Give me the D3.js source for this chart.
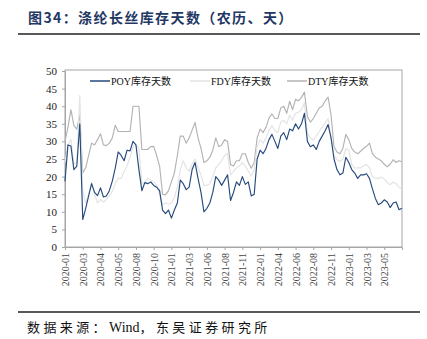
<!DOCTYPE html>
<html><head><meta charset="utf-8">
<script src="https://cdn.jsdelivr.net/npm/d3@7"></script>
<style>body{margin:0;background:#fff;} svg{display:block;}</style>
</head><body><svg id="c" width="427" height="339"></svg>
<script>
const tickLabels = ["2020-01","2020-03","2020-04","2020-05","2020-08","2020-10","2021-01","2021-03","2021-06","2021-08","2021-11","2022-01","2022-04","2022-06","2022-08","2022-11","2023-01","2023-03","2023-05"];
const labelStep = 6;
const poy = [18.7,29,28.7,22,23,35,7.8,11,14.5,18,15.5,14.6,16.8,14.2,14.5,16,18.7,22.4,27,26,24.5,27.5,27.3,30,29,22,16,18.3,18,18.5,17.5,17,16,10.5,9.5,10.5,8.2,10.5,12.5,19,18,16.3,17,22,24,19.5,15.5,10,11,12.5,15.5,20,19,17.5,19,20.5,13.2,15.5,18.5,17.5,20,17.8,18.5,14.5,15,25,27.5,26.5,28,30.5,32,30,28,31.5,32.5,30.5,33.5,33,35,33.5,35,38,30,28.5,29,27.7,30,31.5,33,34.8,31,25,22,20.5,21,25.5,24,22,21,19.5,20.5,20.5,20.8,19.5,16.5,13.8,12,12.5,13.4,12.8,11.2,12.5,12.8,10.6,11];
const fdy = [24,29,30.5,23.5,24,43,16,12.5,15,18.5,15,12.5,13.5,12.8,13.5,14.5,15.8,18,19.5,19.5,21.5,23,25.5,28.5,29,28,18,18.5,19.5,19,18.5,17.5,15,12,12.5,12.2,12.5,14,17,22,24.5,22.5,21.5,23.5,25,22.5,20.5,17.5,17.5,18,20,22.5,23.5,24.5,26,26.5,20.5,21.5,22.5,23,24,23,21.5,20.1,22,28.5,30.5,29.5,31,33,34.5,33,32.5,35.5,36,35,37.5,36,38,38.3,39,41,32.5,31,30.4,31.5,32.8,34,35.2,36.5,31,26,24.8,24.3,25,28,27.5,23.5,22.4,22.5,22.5,23,23.5,22.5,20,19.5,19.5,19.8,19.3,18.3,17.7,18.4,18,17,16.3];
const dty = [30,34,39,34.5,33.5,37.5,21,22.5,26,29.5,29,30.5,32.2,29,28.8,29.5,31,34.6,32.8,32.8,32.8,32.8,32.8,40,40,40,27.7,27.7,27.7,28.5,28.6,26,23,15,14.8,16,18.5,21,26,31.5,31.5,29.5,31,33.2,35.4,31,28,24,24.5,25.5,27.5,31,28.5,29,30.5,30,23.4,23,24.5,24.5,26.5,26.5,24,22.4,24,31,33.5,32.5,34,36.6,37.8,36.5,36.5,39.5,40,38,41.4,39,42,41.5,42.5,44,37,35.5,36.5,38,39.5,40,41.5,42.6,37.5,28.5,27,26.5,28,32,30.5,28,27,26.5,27.2,28,28.6,29.5,26.5,25.5,25,24.5,23.5,22.8,23.5,24.8,24,24.5,24.2];
const seriesNames = ["POY库存天数","FDY库存天数","DTY库存天数"];
const seriesColors = ["#264a7c","#e3e3e3","#b3b3b3"];
const yTicks = d3.range(0, 51, 5);

const svg = d3.select("#c");
const L = 65, R = 402, T = 71, B = 247;
const x = d3.scaleLinear().domain([0, poy.length - 1]).range([L, R]);
const y = d3.scaleLinear().domain([0, 50]).range([B, T]);

// title
svg.append("text").attr("x", 28).attr("y", 23)
  .attr("font-family", "'Noto Sans CJK SC', sans-serif").attr("font-weight", "bold")
  .attr("font-size", 14).attr("letter-spacing", 1.4).attr("fill", "#1f3864")
  .text("图34：涤纶长丝库存天数（农历、天）");
svg.append("line").attr("x1", 18).attr("x2", 420).attr("y1", 34).attr("y2", 34)
  .attr("stroke", "#222").attr("stroke-width", 1.5);

// frame
svg.append("rect").attr("x", L).attr("y", T - 1).attr("width", R - L).attr("height", B - T + 1)
  .attr("fill", "none").attr("stroke", "#a6a6a6").attr("stroke-width", 1);

// y axis
const yAxis = d3.axisLeft(y).tickValues(yTicks).tickSize(3).tickFormat(d3.format("d"));
const gy = svg.append("g").attr("transform", `translate(${L},0)`).call(yAxis);
gy.select(".domain").attr("stroke", "#a6a6a6");
gy.selectAll(".tick line").attr("stroke", "#a6a6a6");
gy.selectAll("text").attr("font-family", "'Liberation Serif', serif").attr("font-size", 11).attr("fill", "#222").attr("dx", "-2");

// x axis
const tickIdx = tickLabels.map((d, i) => i * labelStep);
const xAxis = d3.axisBottom(x).tickValues(tickIdx).tickSize(3).tickFormat((d, i) => tickLabels[i]);
const gx = svg.append("g").attr("transform", `translate(0,${B})`).call(xAxis);
gx.select(".domain").attr("stroke", "#a6a6a6");
gx.selectAll(".tick line").attr("stroke", "#a6a6a6");
gx.selectAll("text").attr("font-family", "'Liberation Serif', serif").attr("font-size", 10).attr("fill", "#444")
  .attr("transform", "rotate(-90)").attr("text-anchor", "end").attr("x", -6).attr("y", 0).attr("dy", "0.35em");

// lines
const line = d3.line().x((d, i) => x(i)).y(d => y(d));
const data = [dty, fdy, poy];
const cols = [seriesColors[2], seriesColors[1], seriesColors[0]];
data.forEach((s, k) => {
  svg.append("path").datum(s).attr("d", line).attr("fill", "none")
    .attr("stroke", cols[k]).attr("stroke-width", 1.15).attr("stroke-linejoin", "round");
});

// legend
const legX = [90, 190, 287];
seriesNames.forEach((n, i) => {
  svg.append("line").attr("x1", legX[i]).attr("x2", legX[i] + 20).attr("y1", 81).attr("y2", 81)
    .attr("stroke", seriesColors[i]).attr("stroke-width", 1.5);
  svg.append("text").attr("x", legX[i] + 21).attr("y", 84.5)
    .attr("font-family", "'Liberation Serif', 'Noto Sans CJK SC', serif").attr("font-size", 10).attr("fill", "#111")
    .text(n);
});

// source
svg.append("line").attr("x1", 18).attr("x2", 420).attr("y1", 312).attr("y2", 312)
  .attr("stroke", "#222").attr("stroke-width", 1.5);
const src = svg.append("text").attr("x", 27).attr("y", 332)
  .attr("font-family", "'Noto Sans CJK SC', sans-serif").attr("font-size", 13).attr("fill", "#111");
src.append("tspan").attr("letter-spacing", 3.4).text("数据来源：");
src.append("tspan").attr("font-family", "'Liberation Serif', serif").attr("font-size", 14).text("Wind");
src.append("tspan").attr("letter-spacing", 3.4).text("，东吴证券研究所");
</script></body></html>
